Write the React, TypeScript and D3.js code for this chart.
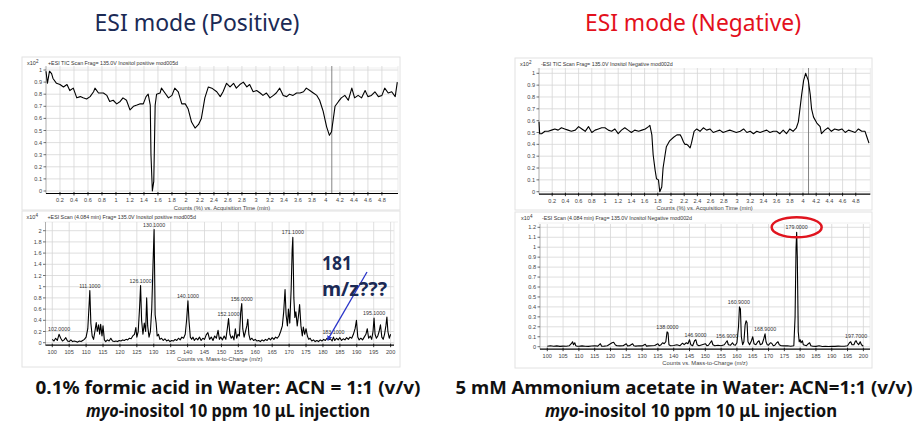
import React from "react";
import * as d3 from "d3";

type Pt = [number, number];

// Positive TIC (x10^2 counts) vs acquisition time (min)
const posTic: Pt[] = [
  [0, 0.99], [0.02, 0.89], [0.05, 0.99], [0.08, 0.97], [0.1, 0.93], [0.15, 0.89], [0.2, 0.88], [0.25, 0.86],
  [0.3, 0.88], [0.34, 0.83], [0.39, 0.85], [0.44, 0.77], [0.49, 0.78], [0.53, 0.77], [0.58, 0.76], [0.63, 0.78],
  [0.68, 0.82], [0.7, 0.85], [0.75, 0.81], [0.82, 0.81], [0.87, 0.79], [0.91, 0.74], [0.96, 0.75], [1.01, 0.72],
  [1.06, 0.74], [1.1, 0.77], [1.15, 0.75], [1.2, 0.67], [1.25, 0.7], [1.3, 0.71], [1.34, 0.72], [1.39, 0.72],
  [1.43, 0.78], [1.46, 0.8], [1.49, 0.71], [1.5, 0.3], [1.52, 0.0], [1.54, 0.08], [1.56, 0.71], [1.58, 0.8],
  [1.63, 0.81], [1.65, 0.85], [1.7, 0.81], [1.75, 0.77], [1.8, 0.79], [1.84, 0.85], [1.89, 0.82], [1.94, 0.72],
  [1.99, 0.72], [2.03, 0.68], [2.08, 0.57], [2.13, 0.52], [2.18, 0.55], [2.22, 0.6], [2.27, 0.77], [2.32, 0.86],
  [2.37, 0.85], [2.44, 0.82], [2.49, 0.78], [2.53, 0.82], [2.58, 0.89], [2.63, 0.86], [2.68, 0.89], [2.72, 0.85],
  [2.77, 0.88], [2.82, 0.9], [2.87, 0.86], [2.91, 0.88], [2.96, 0.82], [3.01, 0.83], [3.06, 0.81], [3.1, 0.79],
  [3.15, 0.81], [3.2, 0.77], [3.25, 0.79], [3.29, 0.81], [3.34, 0.85], [3.39, 0.79], [3.44, 0.78], [3.48, 0.8],
  [3.53, 0.79], [3.58, 0.81], [3.63, 0.81], [3.68, 0.82], [3.72, 0.85], [3.77, 0.83], [3.82, 0.81], [3.87, 0.79],
  [3.91, 0.75], [3.96, 0.66], [4.01, 0.53], [4.05, 0.46], [4.08, 0.49], [4.13, 0.7], [4.18, 0.74], [4.22, 0.77],
  [4.27, 0.79], [4.32, 0.75], [4.37, 0.85], [4.41, 0.77], [4.46, 0.79], [4.51, 0.77], [4.56, 0.83], [4.6, 0.78],
  [4.65, 0.79], [4.7, 0.82], [4.75, 0.78], [4.8, 0.79], [4.84, 0.85], [4.89, 0.81], [4.94, 0.82], [4.99, 0.78],
  [5.02, 0.9],
];

// Negative TIC (x10^2 counts) vs acquisition time (min)
const negTic: Pt[] = [
  [0, 0.59], [0.01, 0.49], [0.04, 0.49], [0.09, 0.51], [0.14, 0.51], [0.19, 0.52], [0.24, 0.53], [0.29, 0.52],
  [0.34, 0.54], [0.39, 0.53], [0.44, 0.52], [0.49, 0.51], [0.55, 0.52], [0.6, 0.55], [0.65, 0.53], [0.7, 0.51],
  [0.75, 0.55], [0.8, 0.5], [0.85, 0.52], [0.9, 0.53], [0.95, 0.54], [1.0, 0.54], [1.05, 0.52], [1.1, 0.51],
  [1.15, 0.53], [1.2, 0.49], [1.25, 0.52], [1.3, 0.54], [1.35, 0.52], [1.4, 0.5], [1.45, 0.52], [1.51, 0.51],
  [1.56, 0.52], [1.61, 0.53], [1.66, 0.55], [1.68, 0.56], [1.71, 0.48], [1.73, 0.31], [1.76, 0.18], [1.78, 0.11],
  [1.81, 0.1], [1.83, 0.0], [1.86, 0.04], [1.88, 0.2], [1.91, 0.31], [1.93, 0.38], [1.98, 0.43], [2.04, 0.46],
  [2.09, 0.48], [2.14, 0.48], [2.16, 0.46], [2.19, 0.42], [2.21, 0.4], [2.24, 0.4], [2.26, 0.39], [2.29, 0.37],
  [2.31, 0.41], [2.35, 0.51], [2.39, 0.53], [2.44, 0.51], [2.49, 0.54], [2.54, 0.52], [2.59, 0.53], [2.64, 0.5],
  [2.69, 0.51], [2.74, 0.52], [2.79, 0.5], [2.84, 0.51], [2.89, 0.52], [2.94, 0.51], [2.99, 0.5], [3.05, 0.51],
  [3.1, 0.53], [3.15, 0.5], [3.2, 0.51], [3.25, 0.49], [3.3, 0.51], [3.35, 0.5], [3.4, 0.51], [3.45, 0.52],
  [3.5, 0.5], [3.55, 0.51], [3.6, 0.51], [3.65, 0.49], [3.7, 0.52], [3.75, 0.49], [3.8, 0.53], [3.85, 0.51],
  [3.9, 0.54], [3.93, 0.59], [3.95, 0.68], [3.98, 0.82], [4.01, 0.94], [4.04, 1.0], [4.08, 0.94], [4.11, 0.82],
  [4.13, 0.7], [4.16, 0.63], [4.21, 0.58], [4.26, 0.55], [4.28, 0.49], [4.33, 0.52], [4.38, 0.54], [4.43, 0.51],
  [4.48, 0.53], [4.54, 0.52], [4.59, 0.53], [4.64, 0.5], [4.69, 0.52], [4.74, 0.51], [4.79, 0.5], [4.84, 0.53],
  [4.89, 0.51], [4.94, 0.51], [4.97, 0.46], [5.0, 0.41],
];

// Positive MS scan at 4.084 min (x10^4 counts) vs m/z
const posSpec: Pt[] = [
  [100, 0.06], [100.5, 0.03], [101, 0.08], [101.5, 0.04], [102, 0.15], [102.5, 0.08], [103, 0.03], [103.5, 0.05],
  [104, 0.09], [104.5, 0.03], [105, 0.02], [105.5, 0.05], [106, 0.02], [106.5, 0.03], [107, 0.02], [107.5, 0.01],
  [108, 0.03], [108.5, 0.02], [109, 0.04], [109.5, 0.06], [110, 0.1], [110.5, 0.25], [110.8, 0.58], [111.1, 0.93],
  [111.4, 0.35], [111.8, 0.12], [112.2, 0.06], [112.6, 0.2], [113, 0.36], [113.3, 0.2], [113.7, 0.32], [114, 0.15],
  [114.3, 0.33], [114.7, 0.12], [115, 0.3], [115.4, 0.05], [115.8, 0.02], [116.3, 0.05], [116.8, 0.03], [117.3, 0.08],
  [117.8, 0.03], [118.3, 0.02], [118.8, 0.03], [119.3, 0.02], [119.8, 0.04], [120.3, 0.03], [120.8, 0.05], [121.3, 0.04],
  [121.8, 0.06], [122.3, 0.05], [122.8, 0.08], [123.3, 0.07], [123.8, 0.12], [124.3, 0.15], [124.7, 0.27], [125, 0.1],
  [125.4, 0.2], [125.8, 0.62], [126.1, 1.02], [126.4, 0.4], [126.8, 0.15], [127.2, 0.35], [127.6, 0.2], [127.9, 0.8],
  [128.2, 0.3], [128.6, 0.1], [129, 0.2], [129.4, 0.6], [129.8, 1.45], [130.1, 2.02], [130.4, 0.5], [130.7, 0.35],
  [131, 0.12], [131.4, 0.15], [131.8, 0.06], [132.3, 0.08], [132.8, 0.04], [133.3, 0.07], [133.8, 0.03], [134.3, 0.05],
  [134.8, 0.02], [135.3, 0.04], [135.8, 0.03], [136.3, 0.06], [136.8, 0.04], [137.3, 0.08], [137.8, 0.05], [138.3, 0.1],
  [138.8, 0.08], [139.3, 0.15], [139.7, 0.4], [140.1, 0.75], [140.4, 0.4], [140.8, 0.1], [141.2, 0.06], [141.6, 0.1],
  [142, 0.04], [142.5, 0.08], [143, 0.05], [143.5, 0.1], [144, 0.04], [144.5, 0.08], [145, 0.06], [145.5, 0.14],
  [146, 0.18], [146.5, 0.06], [147, 0.1], [147.5, 0.04], [148, 0.12], [148.5, 0.08], [149, 0.22], [149.4, 0.06],
  [149.8, 0.1], [150.3, 0.05], [150.8, 0.12], [151.3, 0.06], [151.8, 0.28], [152.1, 0.43], [152.5, 0.15], [152.9, 0.08],
  [153.3, 0.12], [153.7, 0.05], [154.1, 0.25], [154.5, 0.08], [154.9, 0.15], [155.3, 0.12], [155.7, 0.55], [156, 0.7],
  [156.3, 0.25], [156.7, 0.1], [157.1, 0.2], [157.5, 0.3], [157.8, 0.42], [158.1, 0.15], [158.5, 0.05], [159, 0.08],
  [159.5, 0.04], [160, 0.06], [160.5, 0.03], [161, 0.04], [161.5, 0.02], [162, 0.05], [162.5, 0.03], [163, 0.06],
  [163.5, 0.04], [164, 0.08], [164.5, 0.05], [165, 0.09], [165.5, 0.06], [166, 0.1], [166.5, 0.08], [167, 0.12],
  [167.5, 0.2], [168, 0.3], [168.4, 0.55], [168.8, 0.95], [169.1, 0.5], [169.5, 0.3], [169.8, 0.6], [170.2, 0.35],
  [170.6, 0.95], [170.9, 1.65], [171.1, 1.88], [171.4, 0.8], [171.7, 0.45], [172, 0.55], [172.4, 0.3], [172.8, 0.5],
  [173.1, 0.68], [173.5, 0.3], [173.9, 0.12], [174.2, 0.28], [174.6, 0.15], [175, 0.25], [175.4, 0.12], [175.8, 0.06],
  [176.2, 0.08], [176.7, 0.03], [177.2, 0.05], [177.7, 0.02], [178.2, 0.04], [178.7, 0.02], [179.2, 0.05], [179.7, 0.03],
  [180.2, 0.06], [180.7, 0.04], [181.2, 0.08], [181.7, 0.05], [182.2, 0.07], [182.7, 0.03], [183.1, 0.1], [183.5, 0.04],
  [184, 0.08], [184.5, 0.05], [185, 0.09], [185.5, 0.04], [186, 0.07], [186.5, 0.05], [187, 0.09], [187.5, 0.06],
  [188, 0.1], [188.5, 0.08], [189, 0.15], [189.5, 0.25], [189.9, 0.4], [190.3, 0.1], [190.7, 0.05], [191.2, 0.08],
  [191.7, 0.05], [192.2, 0.1], [192.7, 0.15], [193.1, 0.25], [193.5, 0.08], [194, 0.12], [194.4, 0.06], [194.8, 0.2],
  [195.1, 0.44], [195.4, 0.15], [195.8, 0.08], [196.2, 0.12], [196.6, 0.2], [197, 0.32], [197.4, 0.1], [197.8, 0.06],
  [198.2, 0.15], [198.6, 0.3], [198.9, 0.46], [199.2, 0.2], [199.6, 0.08], [200, 0.15],
];

// Negative MS scan at 4.084 min (x10^4 counts) vs m/z
const negSpec: Pt[] = [
  [100, 0.005], [101, 0.01], [102, 0.005], [103, 0.008], [104, 0.003], [105, 0.006], [106, 0.004], [107, 0.01],
  [107.6, 0.03], [108, 0.05], [108.3, 0.02], [108.7, 0.04], [109, 0.01], [109.5, 0.005], [110, 0.004], [111, 0.008],
  [112, 0.005], [113, 0.003], [114, 0.007], [115, 0.01], [116, 0.006], [116.8, 0.03], [117.2, 0.005], [118, 0.006],
  [119, 0.01], [120, 0.03], [120.5, 0.04], [121, 0.045], [121.5, 0.02], [122, 0.01], [123, 0.008], [124, 0.01],
  [125, 0.03], [125.4, 0.008], [126, 0.01], [127, 0.03], [127.4, 0.01], [128, 0.006], [129, 0.01], [130, 0.008],
  [131, 0.025], [131.4, 0.006], [132, 0.008], [133, 0.01], [134, 0.012], [135, 0.03], [135.4, 0.01], [136, 0.02],
  [136.5, 0.04], [137, 0.03], [137.5, 0.05], [137.9, 0.15], [138.2, 0.14], [138.5, 0.02], [139, 0.01], [140, 0.012],
  [141, 0.02], [142, 0.01], [142.8, 0.035], [143.3, 0.02], [144, 0.04], [144.5, 0.03], [145, 0.07], [145.4, 0.02],
  [146, 0.01], [146.6, 0.06], [147, 0.07], [147.4, 0.02], [148, 0.01], [149, 0.02], [150, 0.03], [150.5, 0.01],
  [151, 0.015], [152, 0.06], [152.4, 0.02], [153, 0.01], [154, 0.015], [155, 0.01], [156, 0.02], [156.9, 0.06],
  [157.3, 0.02], [158, 0.015], [158.6, 0.04], [159, 0.02], [159.5, 0.015], [160, 0.04], [160.5, 0.2], [160.8, 0.4],
  [161.1, 0.38], [161.4, 0.1], [161.8, 0.02], [162.2, 0.05], [162.6, 0.22], [162.9, 0.26], [163.2, 0.24], [163.5, 0.05],
  [164, 0.02], [164.6, 0.06], [165, 0.1], [165.4, 0.03], [166, 0.02], [166.6, 0.05], [167, 0.06], [167.4, 0.02],
  [168, 0.03], [168.5, 0.08], [168.9, 0.13], [169.2, 0.05], [169.6, 0.02], [170, 0.015], [170.6, 0.04], [171, 0.035],
  [171.5, 0.01], [172, 0.015], [172.6, 0.04], [173, 0.05], [173.4, 0.02], [174, 0.01], [175, 0.008], [176, 0.01],
  [177, 0.005], [178, 0.01], [178.4, 0.3], [178.7, 0.99], [178.9, 1.15], [179.1, 0.9], [179.4, 0.15], [179.7, 0.05],
  [180, 0.07], [180.3, 0.04], [180.7, 0.06], [181, 0.02], [182, 0.01], [182.6, 0.03], [183, 0.04], [183.4, 0.01],
  [184, 0.005], [185, 0.003], [186, 0.01], [187, 0.002], [188, 0.003], [189, 0.002], [190, 0.005], [191, 0.003],
  [192, 0.006], [193, 0.004], [194, 0.005], [195, 0.01], [195.6, 0.04], [196, 0.05], [196.4, 0.02], [197, 0.02],
  [197.4, 0.05], [197.7, 0.06], [198, 0.04], [198.5, 0.02], [199, 0.05], [199.4, 0.02], [200, 0.005],
];

// Peak annotations: [m/z position, intensity, label]
const posPeakLabels: [number, number, string][] = [
  [102.0, 0.15, "102.0000"], [111.1, 0.93, "111.1000"], [126.1, 1.02, "126.1000"], [130.1, 2.02, "130.1000"],
  [140.1, 0.75, "140.1000"], [152.1, 0.43, "152.1000"], [156.0, 0.7, "156.0000"], [171.1, 1.88, "171.1000"],
  [183.1, 0.1, "183.1000"], [195.1, 0.44, "195.1000"],
];
const negPeakLabels: [number, number, string][] = [
  [138.0, 0.15, "138.0000"], [146.9, 0.07, "146.9000"], [156.9, 0.06, "156.9000"], [160.6, 0.4, "160.9000"],
  [168.9, 0.13, "168.9000"], [178.9, 1.15, "179.0000"], [197.7, 0.06, "197.7000"],
];

const ticXTicks = [0.2, 0.4, 0.6, 0.8, 1, 1.2, 1.4, 1.6, 1.8, 2, 2.2, 2.4, 2.6, 2.8, 3, 3.2, 3.4, 3.6, 3.8, 4, 4.2, 4.4, 4.6, 4.8];
const ticYTicks = [0, 0.1, 0.2, 0.3, 0.4, 0.5, 0.6, 0.7, 0.8, 0.9, 1];
const msXTicks = [100, 105, 110, 115, 120, 125, 130, 135, 140, 145, 150, 155, 160, 165, 170, 175, 180, 185, 190, 195, 200];
const posMsYTicks = [0, 0.2, 0.4, 0.6, 0.8, 1, 1.2, 1.4, 1.6, 1.8, 2];
const negMsYTicks = [0, 0.1, 0.2, 0.3, 0.4, 0.5, 0.6, 0.7, 0.8, 0.9, 1, 1.1, 1.2];
const scanTime = 4.084;

const FONT = "'Liberation Sans', Arial, sans-serif";
const fmt = (v: number) => String(Math.round(v * 10) / 10);

type PanelProps = {
  frame: [number, number, number, number];
  xDomain: [number, number];
  xRange: [number, number];
  yDomain: [number, number];
  yRange: [number, number];
  plotTop: number;
  xTicks: number[];
  yTicks: number[];
  data: Pt[];
  header: string;
  exp: string;
  xTitle: string;
  marker?: number;
  peakLabels?: [number, number, string][];
  children?: (x: d3.ScaleLinear<number, number>, y: d3.ScaleLinear<number, number>) => React.ReactNode;
};

function Panel(p: PanelProps) {
  const x = d3.scaleLinear().domain(p.xDomain).range(p.xRange);
  const y = d3.scaleLinear().domain(p.yDomain).range(p.yRange);
  const line = d3.line<Pt>().x((d) => x(d[0])).y((d) => y(d[1]));
  const [fx, fy, fw, fh] = p.frame;
  const x0 = p.xRange[0];
  const x1 = p.xRange[1];
  const axisY = y(0) + 2.5;
  const top = p.plotTop;
  const headerY = fy + 7;
  return (
    <g>
      <rect x={fx} y={fy} width={fw} height={fh} fill="#fff" stroke="#e2e2e2" strokeWidth={1} />
      <line x1={x0 - 2} x2={fx + fw - 2} y1={fy + 11} y2={fy + 11} stroke="#efefef" />
      <text x={x0 - 19} y={headerY + 1} fontSize={5.5} fill="#333" fontFamily={FONT}>
        x10<tspan dy={-2.5} fontSize={4.5}>{p.exp}</tspan>
      </text>
      <text x={x0 + 2} y={headerY + 1} fontSize={5.3} fill="#333" fontFamily={FONT}>{p.header}</text>
      {p.xTicks.map((t) => (
        <line key={"gx" + t} x1={x(t)} x2={x(t)} y1={top} y2={axisY} stroke="#d6d6d6" strokeWidth={0.8} />
      ))}
      {p.yTicks.map((t) => (
        <line key={"gy" + t} x1={x0} x2={x1} y1={y(t)} y2={y(t)} stroke="#d6d6d6" strokeWidth={0.8} />
      ))}
      <line x1={x0} x2={x0} y1={top} y2={axisY} stroke="#9a9a9a" strokeWidth={0.8} />
      <line x1={x1} x2={x1} y1={top} y2={axisY} stroke="#e6e6e6" strokeWidth={0.8} />
      {p.yTicks.map((t) => (
        <g key={"yl" + t}>
          <line x1={x0 - 2.5} x2={x0} y1={y(t)} y2={y(t)} stroke="#333" strokeWidth={0.7} />
          <text x={x0 - 4} y={y(t) + 2} fontSize={5.6} textAnchor="end" fill="#444" fontFamily={FONT}>{fmt(t)}</text>
        </g>
      ))}
      {p.marker !== undefined && (
        <line x1={x(p.marker)} x2={x(p.marker)} y1={top} y2={axisY} stroke="#777" strokeWidth={0.9} />
      )}
      <path d={line(p.data) || ""} fill="none" stroke="#000" strokeWidth={1.1} strokeLinejoin="round" />
      <line x1={x0} x2={x1} y1={axisY} y2={axisY} stroke="#000" strokeWidth={1.2} />
      {p.xTicks.map((t) => (
        <g key={"xl" + t}>
          <line x1={x(t)} x2={x(t)} y1={axisY - 1.5} y2={axisY + 2} stroke="#000" strokeWidth={0.8} />
          <text x={x(t)} y={axisY + 8.5} fontSize={5.6} textAnchor="middle" fill="#444" fontFamily={FONT}>{fmt(t)}</text>
        </g>
      ))}
      <text x={(x0 + x1) / 2} y={axisY + 16} fontSize={5.8} textAnchor="middle" fill="#444" fontFamily={FONT}>{p.xTitle}</text>
      {p.peakLabels &&
        p.peakLabels.map(([m, v, s]) => (
          <text key={"pl" + s} x={x(m)} y={y(v) - 3} fontSize={5.3} textAnchor="middle" fill="#333" fontFamily={FONT}>{s}</text>
        ))}
      {p.children && p.children(x, y)}
    </g>
  );
}

export default function App() {
  return (
    <svg width={923} height={428} style={{ position: "absolute", left: 0, top: 0, background: "#fff" }}>
      <rect x={0} y={0} width={923} height={428} fill="#fff" />
      <text x={197} y={31} fontSize={24} textAnchor="middle" fill="#1b2a55" fontFamily="'Noto Sans', sans-serif"
        textLength={205} lengthAdjust="spacingAndGlyphs">ESI mode (Positive)</text>
      <text x={693} y={31} fontSize={24} textAnchor="middle" fill="#e3101c" fontFamily="'Noto Sans', sans-serif"
        textLength={216} lengthAdjust="spacingAndGlyphs">ESI mode (Negative)</text>

      <Panel frame={[22, 57, 378, 153]} xDomain={[0, 5.03]} xRange={[46, 398]} yDomain={[0, 1]} yRange={[191, 70]}
        plotTop={66} xTicks={ticXTicks} yTicks={ticYTicks} data={posTic} exp="2"
        header="+ESI TIC Scan Frag= 135.0V Inositol positive mod005d" xTitle="Counts (%) vs. Acquisition Time (min)"
        marker={scanTime} />
      <Panel frame={[22, 211, 378, 156]} xDomain={[98, 201]} xRange={[45.5, 394]} yDomain={[0, 2]} yRange={[342.7, 230.7]}
        plotTop={222} xTicks={msXTicks} yTicks={posMsYTicks} data={posSpec} exp="4"
        header="+ESI Scan (4.084 min) Frag= 135.0V Inositol positive mod005d" xTitle="Counts vs. Mass-to-Charge (m/z)"
        peakLabels={posPeakLabels}>
        {(x, y) => (
          <g>
            <defs>
              <marker id="arrowBlue" viewBox="0 0 10 10" refX={8} refY={5} markerWidth={4} markerHeight={4} orient="auto">
                <path d="M0,0 L10,5 L0,10 z" fill="#2a35c9" />
              </marker>
            </defs>
            <line x1={367} y1={272} x2={x(181.4)} y2={y(0.05)} stroke="#2a35c9" strokeWidth={1.3} markerEnd="url(#arrowBlue)" />
            <text x={322} y={270} fontSize={19} fontWeight="bold" fill="#1b2a55" fontFamily="'Noto Sans', sans-serif"
              textLength={30} lengthAdjust="spacingAndGlyphs">181</text>
            <text x={322} y={296} fontSize={19} fontWeight="bold" fill="#1b2a55" fontFamily="'Noto Sans', sans-serif"
              textLength={65} lengthAdjust="spacingAndGlyphs">m/z???</text>
          </g>
        )}
      </Panel>

      <Panel frame={[515, 58, 357, 152]} xDomain={[0, 5.02]} xRange={[539, 870.3]} yDomain={[0, 1]} yRange={[191.7, 73.3]}
        plotTop={68} xTicks={ticXTicks} yTicks={ticYTicks} data={negTic} exp="2"
        header="-ESI TIC Scan Frag= 135.0V Inositol Negative mod002d" xTitle="Counts (%) vs. Acquisition Time (min)"
        marker={scanTime} />
      <Panel frame={[515, 212, 357, 156]} xDomain={[97.7, 202.1]} xRange={[540, 870]} yDomain={[0, 1.2]} yRange={[346.7, 227.3]}
        plotTop={224} xTicks={msXTicks} yTicks={negMsYTicks} data={negSpec} exp="4"
        header="-ESI Scan (4.084 min) Frag= 135.0V Inositol Negative mod002d" xTitle="Counts vs. Mass-to-Charge (m/z)"
        peakLabels={negPeakLabels}>
        {(x, y) => (
          <ellipse cx={x(178.9)} cy={y(1.15) - 5} rx={25} ry={10} fill="none" stroke="#e0141e" strokeWidth={2.5} />
        )}
      </Panel>

      <g fontFamily="'Noto Sans', sans-serif" fontWeight="bold" fill="#111" fontSize={18} textAnchor="middle">
        <text x={228} y={394} textLength={385} lengthAdjust="spacingAndGlyphs">0.1% formic acid in Water: ACN = 1:1 (v/v)</text>
        <text x={228} y={417} textLength={284} lengthAdjust="spacingAndGlyphs">
          <tspan fontStyle="italic">myo</tspan>-inositol 10 ppm 10 μL injection
        </text>
        <text x={684} y={394} textLength={457} lengthAdjust="spacingAndGlyphs">5 mM Ammonium acetate in Water: ACN=1:1 (v/v)</text>
        <text x={691} y={417} textLength={292} lengthAdjust="spacingAndGlyphs">
          <tspan fontStyle="italic">myo</tspan>-inositol 10 ppm 10 μL injection
        </text>
      </g>
    </svg>
  );
}
